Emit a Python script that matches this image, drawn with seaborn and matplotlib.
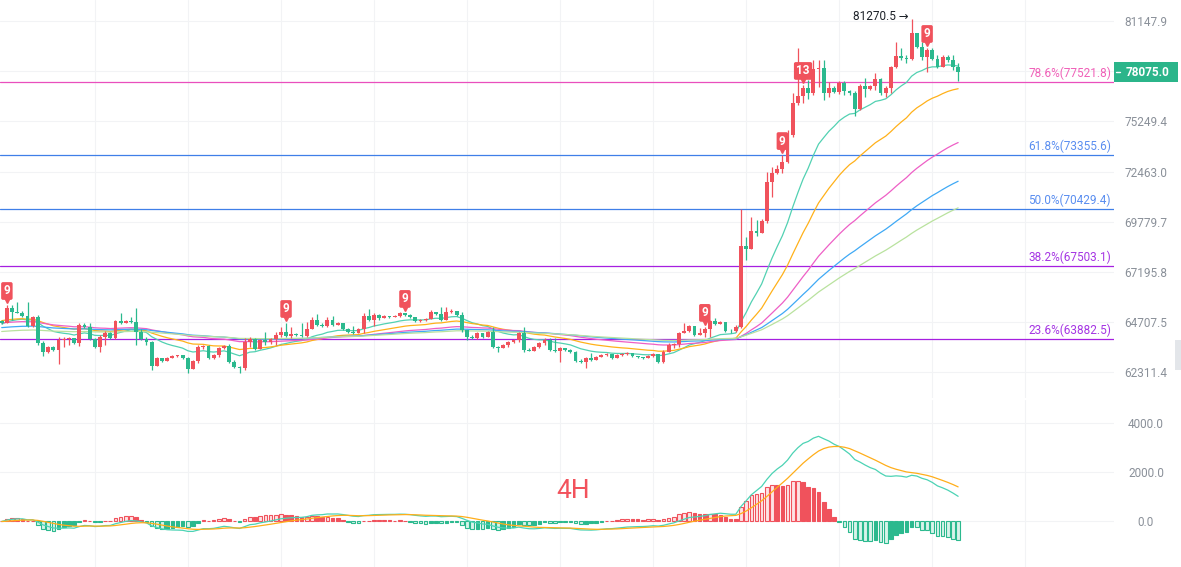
import numpy as np
import pandas as pd
import matplotlib
matplotlib.use("Agg")
import matplotlib.pyplot as plt
import matplotlib.transforms as mtransforms
from matplotlib.patches import Rectangle
from matplotlib.lines import Line2D
from matplotlib.text import Text
import seaborn as sns

# 4H candles (open of each candle = previous close)
first_open = 64770
closes = [
    64670, 65400, 65210, 65160, 65010, 64520, 64960, 63700, 63280, 63510,
    63370, 63850, 63900, 63940, 63700, 64570, 64480, 63900, 63510, 63990,
    64190, 63940, 64770, 64670, 64770, 64720, 64230, 63900, 63750, 62610,
    62990, 62850, 62990, 63080, 63110, 62990, 62470, 62850, 63510, 63560,
    62990, 63130, 63470, 63560, 62800, 62570, 62540, 63750, 63900, 63420,
    63850, 63750, 63900, 64090, 64230, 64040, 64140, 64090, 64050, 64380,
    64820, 64570, 64520, 64820, 64570, 64670, 64380, 64230, 64190, 64380,
    65010, 64820, 65060, 64910, 65010, 64960, 65010, 65160, 65060, 64960,
    64770, 64820, 64860, 65210, 65110, 64820, 65210, 65260, 65060, 64330,
    63990, 63940, 64190, 63990, 64230, 63510, 63470, 63610, 63750, 63850,
    64190, 63370, 63340, 63510, 63700, 63850, 63370, 63330, 63470, 63370,
    63280, 62850, 62800, 62990, 62900, 63040, 63130, 63180, 62990, 63130,
    63180, 63230, 63080, 63040, 62990, 63080, 63180, 62800, 63280, 63610,
    63660, 64190, 64280, 64520, 64090, 64190, 64380, 64770, 64620, 64720,
    64280, 64260, 64480, 68520, 68370, 69300, 69200, 69820, 71900, 72390,
    72600, 72990, 74480, 76300, 76700, 77160, 76870, 78270, 78330, 76870,
    77160, 76930, 77450, 76990, 76870, 75960, 77280, 77100, 77280, 77690,
    76870, 77160, 78390, 79040, 78920, 78860, 80420, 79580, 78980, 79400,
    78860, 78390, 78980, 78800, 78390, 78075,
]
highs = [
    64820, 65550, 65550, 65700, 65260, 65700, 65010, 65060, 63800, 63560,
    63560, 63990, 63990, 63990, 63940, 64670, 64670, 64670, 63940, 64090,
    64280, 64230, 64820, 65160, 64820, 64960, 65400, 64380, 63990, 63800,
    63040, 62990, 63040, 63130, 63130, 63130, 63040, 62900, 63610, 63610,
    63610, 63180, 63510, 63610, 63660, 62900, 62610, 63940, 63990, 63940,
    63900, 64230, 63940, 64230, 64480, 64670, 64480, 64190, 64670, 64720,
    64960, 65110, 64670, 64960, 65010, 64720, 64670, 64430, 64520, 64430,
    65160, 65350, 65160, 65110, 65060, 65010, 65060, 65210, 65160, 65110,
    64960, 64860, 64910, 65300, 65210, 65450, 65450, 65350, 65260, 65210,
    64330, 64090, 64230, 64190, 64280, 64480, 63560, 63660, 63800, 63900,
    64230, 64480, 63470, 63560, 63750, 63940, 63940, 63940, 63510, 63470,
    63420, 63320, 62940, 63040, 63230, 63080, 63180, 63230, 63180, 63180,
    63230, 63280, 63230, 63080, 63040, 63130, 63230, 63180, 63370, 63700,
    63700, 64230, 64670, 64570, 64520, 64430, 64480, 64820, 64910, 64770,
    64720, 64380, 64570, 70480, 68990, 70030, 69870, 69930, 72440, 72720,
    72820, 73370, 74770, 76870, 79520, 77340, 77630, 78800, 78800, 78800,
    77510, 77280, 77570, 77570, 77050, 76990, 77400, 77740, 77340, 78040,
    77740, 77280, 78450, 79880, 79520, 79100, 81270.5, 80120, 79880, 79520,
    79520, 79100, 79100, 79100, 79100, 78630,
]
lows = [
    64620, 64670, 64820, 65140, 64960, 64480, 64480, 63610, 63080, 63230,
    63320, 62710, 63510, 63610, 63660, 63560, 64430, 63850, 63470, 63280,
    63610, 63900, 63900, 64620, 64670, 64670, 63610, 63850, 63610, 62420,
    62660, 62800, 62850, 62990, 63040, 62940, 62280, 62470, 62750, 63420,
    62940, 62940, 63040, 63420, 62750, 62520, 62280, 62420, 63510, 63370,
    63420, 63610, 63660, 63610, 63990, 63990, 63940, 64040, 63990, 63990,
    64520, 64520, 64480, 64480, 64520, 64570, 64330, 64190, 64140, 64190,
    64190, 64770, 64520, 64820, 64910, 64910, 64960, 64960, 65010, 64910,
    64720, 64720, 64770, 64860, 65060, 64770, 64820, 65160, 65010, 64230,
    63850, 63900, 63900, 63940, 63990, 63470, 63280, 63470, 63510, 63700,
    63750, 63280, 63320, 63370, 63470, 63610, 63320, 63280, 62800, 63320,
    63230, 62800, 62750, 62520, 62850, 62900, 63040, 63080, 62940, 62990,
    63080, 63130, 63040, 62990, 62940, 62990, 63040, 62750, 62750, 63280,
    63470, 63510, 64190, 64230, 64040, 64090, 63990, 63990, 64570, 64620,
    64230, 64190, 64230, 64430, 67810, 68370, 69040, 69200, 69720, 71090,
    72330, 72390, 72930, 74370, 76180, 76300, 76530, 76760, 77220, 76470,
    76640, 76870, 76820, 76760, 76760, 75560, 75900, 76640, 77050, 77050,
    76760, 76640, 76870, 78330, 78800, 78630, 78800, 79520, 78800, 78100,
    78800, 78330, 78390, 78690, 78210, 77570,
]

ma_spans = [15, 30, 60, 90, 120]
ma_seeds = [64620, 64790, 64670, 64440, 64250]
ma_colors = ["#52d1b2", "#ffb11a", "#ee5fc6", "#3fa9f5", "#b9e29e"]

fib_names = ["78.6%", "61.8%", "50.0%", "38.2%", "23.6%"]
fib_levels = [77521.8, 73355.6, 70429.4, 67503.1, 63882.5]
fib_line_colors = ["#e94fbd", "#3f7fe8", "#3f7fe8", "#a61fe0", "#a61fe0"]
fib_text_colors = ["#f060b8", "#5a8ef0", "#5a8ef0", "#a535e3", "#a535e3"]

price_ticks = [81147.9, 78144.0, 75249.4, 72463.0, 69779.7, 67195.8, 64707.5, 62311.4]
price_labels = ["81147.9", "", "75249.4", "72463.0", "69779.7", "67195.8", "64707.5", "62311.4"]
macd_ticks = [0, 2000, 4000]
macd_labels = ["0.0", "2000.0", "4000.0"]

td_idx = [1, 55, 78, 136, 151, 155, 179]
td_text = ["9", "9", "9", "9", "9", "13", "9"]
peak_idx = 176
peak_text = "81270.5 →"
last_price = 78075.0
period_text = "4H"

RED = "#f0525c"
GREEN = "#2bb98e"
GRID = "#f2f3f5"
AXIS_TXT = "#8a9099"

# ---- data frame
df = pd.DataFrame({"close": closes, "high": highs, "low": lows})
df["idx"] = np.arange(len(df))
df["open"] = df["close"].shift(1).fillna(first_open)
df["high"] = df[["high", "open", "close"]].max(axis=1)
df["low"] = df[["low", "open", "close"]].min(axis=1)
df["up"] = df["close"] >= df["open"]

for span, seed in zip(ma_spans, ma_seeds):
    s = pd.concat([pd.Series([float(seed)]), df["close"].astype(float)], ignore_index=True)
    df[f"ema{span}"] = s.ewm(span=span, adjust=False).mean().iloc[1:].values

ema12 = df["close"].ewm(span=12, adjust=False).mean()
ema26 = df["close"].ewm(span=26, adjust=False).mean()
df["dif"] = ema12 - ema26
df["dea"] = df["dif"].ewm(span=9, adjust=False).mean()
df["hist"] = 2 * (df["dif"] - df["dea"])

# ---- figure
sns.set_theme(style="white")
plt.rcParams["font.family"] = ["Roboto", "DejaVu Sans"]

W, H = 1181, 567
fig = plt.figure(figsize=(W / 100, H / 100), dpi=100)
fig.patch.set_facecolor("white")
ax = fig.add_axes([0, 1 - 398 / H, 1114 / W, 398 / H])
ax2 = fig.add_axes([0, 0, 1114 / W, 167 / H], sharex=ax)

xlim = (-0.33, 215.15)

# candles
colors = np.where(df["up"], RED, GREEN)
ax.set_yscale("log")
ax.vlines(df["idx"], df["low"], df["high"], colors=colors, linewidth=0.9, zorder=3)
body_low = np.minimum(df["open"], df["close"])
body_h = np.maximum(np.abs(df["close"] - df["open"]), body_low * 0.0004)
ax.bar(df["idx"], body_h, bottom=body_low, width=0.74, color=colors, linewidth=0, zorder=4)

# moving averages
for span, col in zip(ma_spans, ma_colors):
    sns.lineplot(x=df["idx"], y=df[f"ema{span}"], ax=ax, color=col, linewidth=0.9,
                 estimator=None, legend=False, zorder=2)

# fib levels
blend = mtransforms.blended_transform_factory(ax.transAxes, ax.transData)
for name, lvl, lc, tc in zip(fib_names, fib_levels, fib_line_colors, fib_text_colors):
    ax.axhline(lvl, color=lc, linewidth=0.9, zorder=1)
    ax.annotate(f"{name}({lvl:.1f})", xy=(1.0, lvl), xycoords=blend, xytext=(-3, 2),
                textcoords="offset pixels", ha="right", va="bottom", fontsize=8.5, color=tc)

# TD sequential markers
pointer = mtransforms.offset_copy(ax.transData, fig=fig, x=0, y=5, units="dots")
for i, t in zip(td_idx, td_text):
    hi = df.loc[i, "high"]
    ax.plot([i], [hi], marker="v", color=RED, markersize=4.5, transform=pointer, zorder=6)
    ax.annotate(t, xy=(i, hi), xytext=(0, 14), textcoords="offset pixels", ha="center",
                va="center", fontsize=8.5, fontweight="bold", color="white", zorder=7,
                bbox=dict(boxstyle="round,pad=0.2,rounding_size=0.15", fc=RED, ec="none"))

ax.annotate(peak_text, xy=(peak_idx, df.loc[peak_idx, "high"]), xytext=(-3, 2),
            textcoords="offset pixels", ha="right", va="center", fontsize=8.5, color="#1e2329")

ax.set_xlim(*xlim)
ax.set_ylim(61124, 82439)
ax.yaxis.tick_right()
ax.set_yticks(price_ticks)
ax.set_yticklabels(price_labels)
ax.yaxis.set_minor_locator(matplotlib.ticker.NullLocator())
ax.tick_params(axis="y", length=0, pad=23, labelsize=8.5, labelcolor=AXIS_TXT)
for lab in ax.get_yticklabels():
    lab.set_horizontalalignment("center")
ax.set_xticks(np.arange(18, 216, 18))
ax.tick_params(axis="x", length=0, labelbottom=False)
ax.grid(True, color=GRID, linewidth=0.8)
ax.set_xlabel("")
ax.set_ylabel("")
for sp in ax.spines.values():
    sp.set_visible(False)

# last price box (figure-level artists so they sit above the axes)
box_tr = mtransforms.ScaledTranslation(1.0, last_price, blend)
fig.add_artist(Rectangle((0, -10), 64, 20, transform=box_tr, facecolor="#2bb58a",
                         edgecolor="none", clip_on=False, zorder=10))
fig.add_artist(Line2D([2, 6], [0, 0], transform=box_tr, color="white", linewidth=1, zorder=11))
fig.add_artist(Text(34, 0, f"{last_price:.1f}", transform=box_tr, ha="center", va="center",
                    fontsize=8.5, fontweight="bold", color="white", zorder=12,
                    fontfamily=["Roboto", "DejaVu Sans"]))

# ---- MACD panel
h = df["hist"].values
prev = np.r_[h[0], h[:-1]]
faces, edges = [], []
for v, p in zip(h, prev):
    if v >= 0:
        edges.append(RED)
        faces.append("#fde3e5" if v >= p else RED)
    else:
        edges.append(GREEN)
        faces.append("#d8f3ea" if v <= p else GREEN)
ax2.bar(df["idx"], h, width=0.7, color=faces, edgecolor=edges, linewidth=0.8, zorder=3)
sns.lineplot(x=df["idx"], y=df["dif"], ax=ax2, color="#4cd3b4", linewidth=0.9,
             estimator=None, legend=False, zorder=4)
sns.lineplot(x=df["idx"], y=df["dea"], ax=ax2, color="#ffae1a", linewidth=0.9,
             estimator=None, legend=False, zorder=4)
ax2.text(110.5, 1240, period_text, fontsize=19, color="#f2525c", ha="center", va="center")

ax2.set_xlim(*xlim)
ax2.set_ylim(-1848, 4934)
ax2.yaxis.tick_right()
ax2.set_yticks(macd_ticks)
ax2.set_yticklabels(macd_labels)
ax2.tick_params(axis="y", length=0, pad=23, labelsize=8.5, labelcolor=AXIS_TXT)
for lab in ax2.get_yticklabels():
    lab.set_horizontalalignment("center")
ax2.tick_params(axis="x", length=0, labelbottom=False)
ax2.grid(True, color=GRID, linewidth=0.8)
ax2.set_xlabel("")
ax2.set_ylabel("")
for sp in ax2.spines.values():
    sp.set_visible(False)

# small scroll tab at the right edge
fig.add_artist(Rectangle((1175 / W, 1 - 370 / H), 6 / W, 30 / H, transform=fig.transFigure,
                         facecolor="#e3e6ea", edgecolor="none"))

fig.savefig("out.png", dpi=100, facecolor="white")
